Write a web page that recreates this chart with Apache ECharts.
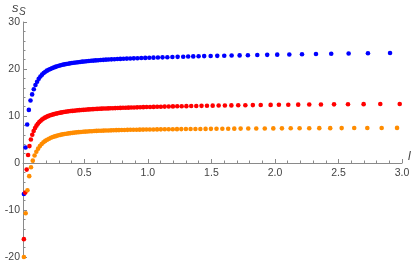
<!DOCTYPE html>
<html>
<head>
<meta charset="utf-8">
<script src="https://cdn.jsdelivr.net/npm/echarts@6/dist/echarts.min.js"></script>
<style>html,body{margin:0;padding:0;background:#fff}#c{width:415px;height:264px}</style>
</head>
<body>
<div id="c"></div>
<script>
// ---- data ----
const blueL = [0.024,0.037,0.050,0.063,0.076,0.089,0.102,0.115,0.128,0.141,0.154,0.167,0.180,0.193,0.206,0.219,0.232,0.245,0.258,0.272,0.286,0.300,0.314,0.328,0.342,0.357,0.372,0.387,0.402,0.418,0.434,0.450,0.466,0.483,0.500,0.517,0.535,0.553,0.571,0.590,0.609,0.629,0.649,0.670,0.691,0.713,0.736,0.759,0.783,0.808,0.834,0.861,0.889,0.918,0.948,0.979,1.011,1.044,1.079,1.115,1.153,1.193,1.234,1.278,1.317,1.357,1.399,1.443,1.494,1.546,1.601,1.659,1.722,1.787,1.861,1.939,2.018,2.113,2.213,2.323,2.443,2.580,2.732,2.906];
const blueS = [-6.6,3.3,8.2,11.3,13.3,14.6,15.7,16.6,17.3,17.9,18.4,18.8,19.15,19.42,19.65,19.85,20.0,20.15,20.3,20.45,20.58,20.7,20.8,20.9,20.98,21.06,21.13,21.2,21.27,21.33,21.39,21.45,21.5,21.56,21.61,21.66,21.71,21.75,21.79,21.83,21.87,21.91,21.95,21.99,22.02,22.05,22.09,22.12,22.15,22.18,22.21,22.24,22.27,22.3,22.33,22.36,22.39,22.42,22.45,22.48,22.51,22.54,22.58,22.62,22.65,22.68,22.71,22.74,22.77,22.8,22.83,22.86,22.89,22.93,22.97,23.01,23.05,23.1,23.15,23.2,23.25,23.3,23.36,23.42];

const redL = [0.024,0.035,0.046,0.057,0.068,0.079,0.090,0.101,0.112,0.123,0.134,0.145,0.156,0.167,0.178,0.190,0.202,0.214,0.226,0.238,0.250,0.262,0.274,0.286,0.299,0.312,0.325,0.338,0.351,0.364,0.377,0.391,0.405,0.419,0.433,0.447,0.461,0.476,0.491,0.506,0.521,0.536,0.552,0.568,0.584,0.600,0.617,0.634,0.651,0.669,0.687,0.705,0.724,0.743,0.763,0.783,0.804,0.825,0.846,0.868,0.891,0.915,0.939,0.964,0.990,1.017,1.045,1.073,1.102,1.132,1.164,1.197,1.231,1.266,1.303,1.341,1.381,1.422,1.465,1.510,1.557,1.606,1.657,1.711,1.767,1.826,1.888,1.966,2.031,2.105,2.183,2.270,2.362,2.465,2.575,2.698,2.829,2.982];
const redS = [-16.2,-6.3,-1.4,1.7,3.6,5.0,6.0,6.8,7.45,7.95,8.35,8.7,9.0,9.25,9.45,9.65,9.82,9.97,10.1,10.2,10.3,10.4,10.48,10.56,10.64,10.71,10.78,10.84,10.9,10.95,11.0,11.05,11.09,11.13,11.17,11.21,11.25,11.28,11.31,11.34,11.37,11.4,11.43,11.46,11.48,11.51,11.53,11.56,11.58,11.6,11.62,11.64,11.66,11.68,11.7,11.72,11.74,11.76,11.78,11.8,11.82,11.84,11.86,11.88,11.9,11.92,11.94,11.96,11.98,12.0,12.02,12.04,12.06,12.08,12.1,12.12,12.14,12.16,12.18,12.2,12.22,12.24,12.26,12.28,12.3,12.32,12.34,12.36,12.38,12.4,12.42,12.44,12.46,12.48,12.5,12.52,12.54,12.56];

const orangeL = [0.024,0.038,0.052,0.066,0.080,0.094,0.108,0.122,0.136,0.150,0.164,0.178,0.192,0.207,0.222,0.237,0.252,0.267,0.282,0.297,0.312,0.327,0.343,0.359,0.375,0.391,0.407,0.423,0.439,0.456,0.473,0.490,0.507,0.524,0.541,0.559,0.577,0.595,0.613,0.632,0.651,0.670,0.690,0.710,0.730,0.751,0.772,0.794,0.816,0.839,0.862,0.886,0.911,0.936,0.962,0.988,1.015,1.043,1.072,1.102,1.133,1.164,1.196,1.229,1.263,1.299,1.336,1.374,1.413,1.454,1.496,1.540,1.586,1.632,1.680,1.730,1.790,1.853,1.920,1.987,2.055,2.124,2.194,2.270,2.349,2.435,2.525,2.624,2.727,2.840,2.961];
const orangeS = [-20.0,-10.7,-5.8,-2.8,-0.9,0.5,1.6,2.4,3.05,3.6,4.05,4.4,4.7,4.95,5.17,5.36,5.52,5.66,5.78,5.89,5.99,6.08,6.16,6.23,6.3,6.36,6.42,6.47,6.52,6.56,6.6,6.64,6.68,6.71,6.74,6.77,6.8,6.83,6.85,6.87,6.89,6.91,6.93,6.95,6.97,6.99,7.0,7.02,7.03,7.05,7.06,7.08,7.09,7.1,7.11,7.12,7.13,7.14,7.15,7.16,7.17,7.18,7.19,7.2,7.21,7.22,7.23,7.24,7.25,7.26,7.27,7.28,7.29,7.3,7.31,7.32,7.33,7.34,7.35,7.36,7.37,7.38,7.39,7.4,7.41,7.42,7.43,7.44,7.45,7.46,7.47];

const xMajorTicks = [0.5, 1.0, 1.5, 2.0, 2.5, 3.0];
const xMinorTicks = [0.1,0.2,0.3,0.4,0.6,0.7,0.8,0.9,1.1,1.2,1.3,1.4,1.6,1.7,1.8,1.9,2.1,2.2,2.3,2.4,2.6,2.7,2.8,2.9];
const yTickLabels = [-20, -10, 0, 10, 20, 30];

// ---- chart ----
const zip = (a, b) => a.map((v, i) => [v, b[i]]);
const axisColor = '#8a8a8a';
const labelColor = '#444';
const font = 'Liberation Sans, Arial, sans-serif';
const yMin = -20, yMax = 30;
const gridTop = 22, gridBottom = 7, chartH = 264;
// offset that lifts the x axis from the grid bottom up to y = 0
const plotH = chartH - gridTop - gridBottom;
const zeroLift = plotH * (0 - yMin) / (yMax - yMin);

const chart = echarts.init(document.getElementById('c'), null, {renderer: 'canvas'});
chart.setOption({
  animation: false,
  backgroundColor: '#fff',
  grid: {left: 23, right: 13, top: gridTop, bottom: gridBottom, containLabel: false},
  xAxis: [{
    type: 'value', min: 0.017, max: 3.0, position: 'bottom', offset: -zeroLift,
    axisLine: {show: true, onZero: false, lineStyle: {color: axisColor, width: 1}},
    axisTick: {show: true, inside: true, length: 4, customValues: xMajorTicks, lineStyle: {color: axisColor}},
    axisLabel: {show: true, customValues: xMajorTicks, margin: 5, color: labelColor, fontSize: 10.5, fontFamily: font,
      formatter: v => v.toFixed(1)},
    splitLine: {show: false}
  }, {
    type: 'value', min: 0.017, max: 3.0, position: 'bottom', offset: -zeroLift,
    axisLine: {show: false, onZero: false},
    axisTick: {show: true, inside: true, length: 2.5, customValues: xMinorTicks, lineStyle: {color: axisColor}},
    axisLabel: {show: false},
    splitLine: {show: false}
  }],
  yAxis: {
    type: 'value', min: yMin, max: yMax, interval: 10,
    axisLine: {show: true, onZero: false, lineStyle: {color: axisColor, width: 1}},
    axisTick: {show: true, inside: true, length: 4, lineStyle: {color: axisColor}},
    minorTick: {show: true, splitNumber: 5, length: 2.5, lineStyle: {color: axisColor}},
    axisLabel: {show: true, margin: 3, color: labelColor, fontSize: 10.5, fontFamily: font,
      customValues: yTickLabels},
    splitLine: {show: false}
  },
  graphic: [
    {type: 'text', left: 12, top: 2, style: {text: 's', fontSize: 13, fontStyle: 'italic', fontFamily: font, fill: '#444'}},
    {type: 'text', left: 19, top: 7, style: {text: 'S', fontSize: 10, fontStyle: 'italic', fontFamily: font, fill: '#444'}},
    {type: 'text', left: 408, top: 151, style: {text: 'l', fontSize: 12, fontStyle: 'italic', fontFamily: font, fill: '#444'}}
  ],
  series: [
    {type: 'scatter', xAxisIndex: 0, data: zip(blueL, blueS), symbolSize: 4.6, itemStyle: {color: '#0000ff', opacity: 1}, clip: false},
    {type: 'scatter', xAxisIndex: 0, data: zip(redL, redS), symbolSize: 4.6, itemStyle: {color: '#ff0000', opacity: 1}, clip: false},
    {type: 'scatter', xAxisIndex: 0, data: zip(orangeL, orangeS), symbolSize: 4.6, itemStyle: {color: '#ff8c00', opacity: 1}, clip: false}
  ]
});
</script>
</body>
</html>
